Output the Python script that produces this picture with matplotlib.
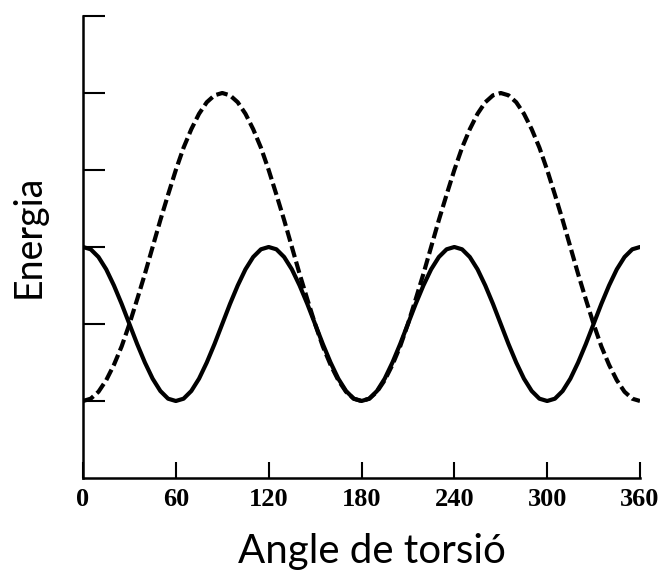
import matplotlib
matplotlib.use("Agg")
import matplotlib.pyplot as plt

# torsion angle in degrees, every 5 degrees
angles = list(range(0, 365, 5))

# staggered-type curve: maxima at 0/120/240/360, minima at 60/180/300
solid_one_period = [3.00, 2.97, 2.87, 2.71, 2.50, 2.26, 2.00, 1.74, 1.50, 1.29, 1.13, 1.03,
                    1.00, 1.03, 1.13, 1.29, 1.50, 1.74, 2.00, 2.26, 2.50, 2.71, 2.87, 2.97]
energy_solid = solid_one_period * 3 + [3.00]

# dashed curve: minima at 0/180/360, maxima near 90/270
dashed_half = [1.00, 1.03, 1.12, 1.27, 1.47, 1.71, 2.00, 2.32, 2.65, 3.00, 3.35, 3.68,
               4.00, 4.29, 4.53, 4.73, 4.88, 4.97, 5.00, 4.97, 4.88, 4.73, 4.53, 4.29,
               4.00, 3.68, 3.35, 3.00, 2.65, 2.32, 2.00, 1.71, 1.47, 1.27, 1.12, 1.03]
energy_dashed = dashed_half * 2 + [1.00]

x_ticks = [0, 60, 120, 180, 240, 300, 360]
y_ticks = [1, 2, 3, 4, 5, 6]

fig = plt.figure(figsize=(6.62, 5.71), dpi=100)
ax = fig.add_axes([83 / 662, 1 - 478 / 571, (640 - 83) / 662, (478 - 16) / 571])

ax.plot(angles, energy_solid, color="black", lw=3.0, solid_capstyle="round")
ax.plot(angles, energy_dashed, color="black", lw=3.0, dashes=(2.8, 1.1),
        dash_capstyle="butt")

ax.set_xlim(0, 360)
ax.set_ylim(0, 6)
ax.set_xticks(x_ticks)
ax.set_xticklabels([str(t) for t in x_ticks], family="Liberation Serif",
                   fontweight="bold", fontsize=19)
ax.set_yticks(y_ticks)
ax.set_yticklabels([])
ax.tick_params(axis="x", direction="in", length=11.5, width=1.5, pad=7)
ax.tick_params(axis="y", direction="in", length=16, width=1.5)

for side in ("top", "right"):
    ax.spines[side].set_visible(False)
for side in ("left", "bottom"):
    ax.spines[side].set_linewidth(1.8)

fig.text(372 / 662, 1 - 563 / 571, "Angle de torsió", family="Lato",
         fontsize=29, ha="center", va="baseline")
fig.text(29 / 662, 1 - 236 / 571, "Energia", family="Lato",
         fontsize=27, ha="center", va="center", rotation=90)

fig.savefig("out.png", dpi=100)
